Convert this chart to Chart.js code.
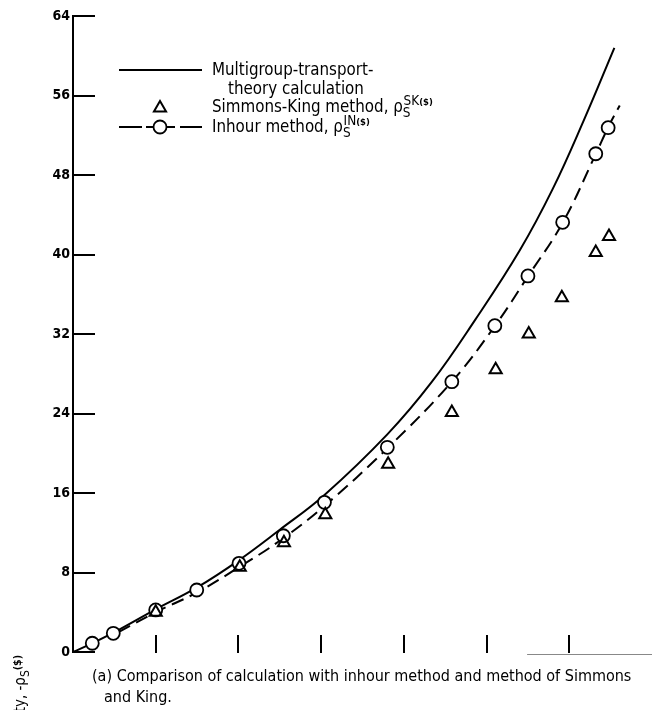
<!DOCTYPE html>
<html><head><meta charset="utf-8">
<script src="https://cdn.jsdelivr.net/npm/chart.js@4.4.1/dist/chart.umd.min.js"></script>
<style>
html,body{margin:0;padding:0;background:#fff;}
#wrap{position:relative;width:652px;height:710px;overflow:hidden;background:#fff;}
#c{position:absolute;left:0;top:0;}
.t{position:absolute;font-family:"DejaVu Sans Condensed","Liberation Sans Narrow",sans-serif;color:#000;white-space:nowrap;line-height:1;}
.sb{font-size:0.8em;position:relative;top:0.35em;}
.sp{font-size:0.8em;position:relative;top:-0.55em;}
.sm{font-size:0.7em;font-weight:bold;}
</style></head><body>
<div id="wrap">
<canvas id="c" width="652" height="710"></canvas>
<div class="t" style="left:212px;top:61px;font-size:16.8px">Multigroup-transport-</div>
<div class="t" style="left:228px;top:80px;font-size:16.8px">theory calculation</div>
<div class="t" style="left:212px;top:98px;font-size:16.8px">Simmons-King method, ρ<span class="sb">S</span><span class="sp" style="margin-left:-7px">SK<span class="sm">($)</span></span></div>
<div class="t" style="left:212px;top:118px;font-size:16.8px">Inhour method, ρ<span class="sb">S</span><span class="sp" style="margin-left:-7px">IN<span class="sm">($)</span></span></div>
<div class="t" style="left:92px;top:668px;font-size:16px">(a) Comparison of calculation with inhour method and method of Simmons</div>
<div class="t" style="left:104px;top:689px;font-size:16px">and King.</div>
<div class="t" style="left:13px;top:955px;width:300px;text-align:right;font-size:15px;transform-origin:0 0;transform:rotate(-90deg);">Negative reactivity, -ρ<span class="sb">S</span><span class="sm" style="position:relative;top:-0.4em">($)</span></div>
</div>
<script>
// ---- data ----
const xTicks = [1, 2, 3, 4, 5, 6];
const yTicks = [0, 8, 16, 24, 32, 40, 48, 56, 64];

const theoryX = [0, 0.25, 0.5, 1.0, 1.5, 2.0, 2.5, 3.04, 3.8, 4.34, 4.86, 5.4, 5.8, 6.17, 6.545];
const theoryY = [0, 0.95, 2.0, 4.3, 6.5, 9.2, 12.3, 15.8, 21.9, 27.2, 33.4, 40.4, 46.6, 53.4, 60.8];

const inhourLineX = [0.55, 1.0, 1.5, 2.0, 2.5, 3.04, 3.8, 4.58, 5.10, 5.50, 5.92, 6.32, 6.47, 6.61];
const inhourLineY = [2.0, 4.0, 6.0, 8.5, 11.2, 14.7, 20.5, 27.2, 32.8, 37.8, 43.2, 50.1, 52.8, 55.0];

const inhourX = [0.233, 0.487, 1.0, 1.496, 2.007, 2.543, 3.04, 3.80, 4.58, 5.10, 5.50, 5.92, 6.32, 6.47];
const inhourY = [0.88, 1.88, 4.23, 6.24, 8.92, 11.7, 15.06, 20.6, 27.2, 32.84, 37.84, 43.24, 50.14, 52.76];

const skX = [1.0, 2.016, 2.55, 3.05, 3.81, 4.58, 5.11, 5.51, 5.91, 6.32, 6.48];
const skY = [4.0, 8.52, 11.0, 13.8, 18.9, 24.1, 28.4, 32.0, 35.65, 40.2, 41.8];

const pts = (xs, ys) => xs.map((x, i) => ({x: x, y: ys[i]}));

function drawTriangle(ctx, cx, cy, r) {
  ctx.beginPath();
  ctx.moveTo(cx, cy - r);
  ctx.lineTo(cx + r * 0.866, cy + r * 0.5);
  ctx.lineTo(cx - r * 0.866, cy + r * 0.5);
  ctx.closePath();
  ctx.stroke();
}

const tickPlugin = {
  id: 'inwardTicks',
  beforeDatasetsDraw(chart) {
    const ctx = chart.ctx, xs = chart.scales.x, ys = chart.scales.y, a = chart.chartArea;
    ctx.save();
    ctx.strokeStyle = '#000';
    ctx.lineWidth = 2;
    yTicks.forEach(v => {
      const p = Math.round(ys.getPixelForValue(v));
      ctx.beginPath(); ctx.moveTo(a.left, p); ctx.lineTo(a.left + 22, p); ctx.stroke();
    });
    xTicks.forEach(v => {
      const p = Math.round(xs.getPixelForValue(v));
      ctx.beginPath(); ctx.moveTo(p, a.bottom + 1); ctx.lineTo(p, a.bottom - 17); ctx.stroke();
    });
    ctx.strokeStyle = '#888';
    ctx.lineWidth = 1;
    ctx.beginPath();
    ctx.moveTo(xs.getPixelForValue(5.49), a.bottom + 2.5);
    ctx.lineTo(chart.width, a.bottom + 2.5);
    ctx.stroke();

    // legend samples
    ctx.strokeStyle = '#000';
    ctx.lineWidth = 2;
    ctx.beginPath(); ctx.moveTo(119, 70); ctx.lineTo(202, 70); ctx.stroke();
    drawTriangle(ctx, 160, 108, 7);
    ctx.beginPath();
    ctx.moveTo(119, 127); ctx.lineTo(142, 127);
    ctx.moveTo(146, 127); ctx.lineTo(153, 127);
    ctx.moveTo(167, 127); ctx.lineTo(175, 127);
    ctx.moveTo(180, 127); ctx.lineTo(202, 127);
    ctx.stroke();
    ctx.lineWidth = 1.8;
    ctx.beginPath(); ctx.arc(160, 127, 6.5, 0, Math.PI * 2); ctx.stroke();
    ctx.restore();
  }
};

new Chart(document.getElementById('c'), {
  type: 'scatter',
  data: {
    datasets: [
      { label: 'Multigroup-transport-theory calculation', data: pts(theoryX, theoryY), showLine: true,
        borderColor: '#000', borderWidth: 2, pointRadius: 0, tension: 0.4, fill: false, order: 4 },
      { label: 'Inhour line', data: pts(inhourLineX, inhourLineY), showLine: true,
        borderColor: '#000', borderWidth: 2, borderDash: [13, 7], pointRadius: 0, tension: 0.4, fill: false, order: 3 },
      { label: 'Inhour method', data: pts(inhourX, inhourY), showLine: false, pointStyle: 'circle',
        pointRadius: 6.5, pointBorderWidth: 1.8, pointBorderColor: '#000', pointBackgroundColor: '#fff', order: 2 },
      { label: 'Simmons-King method', data: pts(skX, skY), showLine: false, pointStyle: 'triangle',
        pointRadius: 7, pointBorderWidth: 2, pointBorderColor: '#000', pointBackgroundColor: 'rgba(0,0,0,0)', order: 1 }
    ]
  },
  options: {
    responsive: false,
    animation: false,
    events: [],
    clip: false,
    layout: { autoPadding: false, padding: { top: 16, bottom: 58, left: 0, right: 0 } },
    plugins: { legend: { display: false }, tooltip: { enabled: false } },
    scales: {
      x: { type: 'linear', min: 0, max: 7, display: false },
      y: {
        type: 'linear', min: 0, max: 64,
        afterFit: s => { s.width = 73; },
        afterBuildTicks: s => { s.ticks = yTicks.map(v => ({value: v})); },
        ticks: { color: '#000', padding: 3, font: { family: '"DejaVu Sans Condensed", "Liberation Sans Narrow", sans-serif', size: 14, weight: 'bold' } },
        grid: { drawOnChartArea: false, drawTicks: false },
        border: { display: true, color: '#000', width: 2 }
      }
    }
  },
  plugins: [tickPlugin]
});
</script>
</body></html>
